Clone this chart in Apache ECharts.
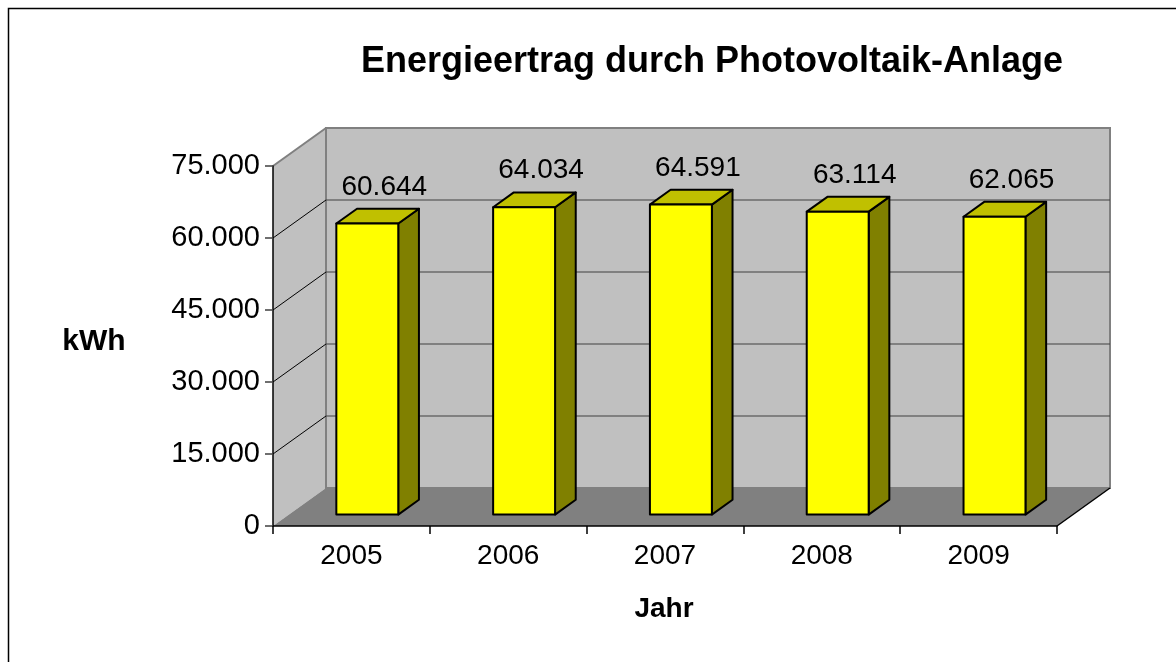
<!DOCTYPE html>
<html>
<head>
<meta charset="utf-8">
<title>Energieertrag durch Photovoltaik-Anlage</title>
<script src="https://cdn.jsdelivr.net/npm/echarts@6/dist/echarts.min.js"></script>
<style>
  html, body { margin: 0; padding: 0; background: #fff; }
  #chart { width: 1176px; height: 662px; }
</style>
</head>
<body>
<div id="chart"></div>
<script>
// Daten
const years = ['2005', '2006', '2007', '2008', '2009']
const energy = [60644, 64034, 64591, 63114, 62065]
const yTicks = [0, 15000, 30000, 45000, 60000, 75000]

// 3D-Tiefe (Pixel) und Lage der Säulen in der Tiefe
const DX = 53
const DY = -38
const F0 = 0.3   // Vorderseite der Säule
const FD = 0.39  // Tiefe der Säule
const BAR_W = 0.395

const fmt = (v) => String(Math.round(v)).replace(/\B(?=(\d{3})+(?!\d))/g, '.')

const font = '"Liberation Sans", Arial, sans-serif'

// Wände und Boden
const renderWalls = (params, api) => {
  const cs = params.coordSys
  const x0 = cs.x, x1 = cs.x + cs.width
  const yT = cs.y, yB = cs.y + cs.height
  const children = []

  children.push({
    type: 'polygon',
    shape: { points: [[x0, yT], [x0 + DX, yT + DY], [x0 + DX, yB + DY], [x0, yB]] },
    style: { fill: '#c0c0c0' }
  })
  children.push({
    type: 'rect',
    shape: { x: x0 + DX, y: yT + DY, width: cs.width, height: cs.height },
    style: { fill: '#c0c0c0', stroke: '#808080', lineWidth: 2 }
  })
  children.push({
    type: 'polygon',
    shape: { points: [[x0, yB], [x1, yB], [x1 + DX, yB + DY], [x0 + DX, yB + DY]] },
    style: { fill: '#808080' }
  })

  yTicks.forEach((t, i) => {
    if (i === 0 || i === yTicks.length - 1) return
    const y = api.coord([0, t])[1]
    children.push({
      type: 'line',
      shape: { x1: x0 + DX, y1: y + DY, x2: x1 + DX, y2: y + DY },
      style: { stroke: '#404040', lineWidth: 1 }
    })
    children.push({
      type: 'line',
      shape: { x1: x0, y1: y, x2: x0 + DX, y2: y + DY },
      style: { stroke: '#000', lineWidth: 1 }
    })
  })

  // obere Kante der Seitenwand
  children.push({
    type: 'line',
    shape: { x1: x0, y1: yT, x2: x0 + DX, y2: yT + DY },
    style: { stroke: '#808080', lineWidth: 2 }
  })
  // rechte Bodenkante
  children.push({
    type: 'line',
    shape: { x1: x1, y1: yB, x2: x1 + DX, y2: yB + DY },
    style: { stroke: '#000', lineWidth: 1.5 }
  })

  return { type: 'group', children }
}

// 3D-Säulen
const renderBar = (params, api) => {
  const idx = api.value(0)
  const val = api.value(1)
  const top = api.coord([idx, val])
  const base = api.coord([idx, 0])
  const bw = api.size([1, 0])[0] * BAR_W
  const ox = DX * F0, oy = DY * F0
  const dx = DX * FD, dy = DY * FD

  const xl = top[0] + ox - bw / 2
  const xr = xl + bw
  const yt = top[1] + oy
  const yb = base[1] + oy
  const line = { stroke: '#000', lineWidth: 2, lineJoin: 'round' }

  return {
    type: 'group',
    children: [
      {
        type: 'polygon',
        shape: { points: [[xr, yt], [xr, yb], [xr + dx, yb + dy], [xr + dx, yt + dy]] },
        style: Object.assign({ fill: '#808000' }, line)
      },
      {
        type: 'polygon',
        shape: { points: [[xl, yt], [xr, yt], [xr + dx, yt + dy], [xl + dx, yt + dy]] },
        style: Object.assign({ fill: '#c0c000' }, line)
      },
      {
        type: 'rect',
        shape: { x: xl, y: yt, width: bw, height: yb - yt },
        style: Object.assign({ fill: '#ffff00' }, line)
      },
      {
        type: 'text',
        x: top[0] + ox + 17,
        y: top[1] - 48,
        style: {
          text: fmt(val),
          align: 'center',
          verticalAlign: 'middle',
          fontSize: 28,
          fontFamily: font,
          fill: '#000'
        }
      }
    ]
  }
}

const chart = echarts.init(document.getElementById('chart'))

const option = {
  backgroundColor: '#fff',
  animation: false,
  textStyle: { fontFamily: font },
  graphic: [
    {
      type: 'rect',
      shape: { x: 8.5, y: 8.5, width: 1200, height: 700 },
      style: { fill: 'none', stroke: '#000', lineWidth: 1.5 },
      z: 100
    },
    {
      type: 'text',
      x: 712,
      y: 62,
      style: {
        text: 'Energieertrag durch Photovoltaik-Anlage',
        align: 'center',
        verticalAlign: 'middle',
        fontSize: 36,
        fontWeight: 'bold',
        fontFamily: font,
        fill: '#000'
      }
    },
    {
      type: 'text',
      x: 94,
      y: 342,
      style: {
        text: 'kWh',
        align: 'center',
        verticalAlign: 'middle',
        fontSize: 30,
        fontWeight: 'bold',
        fontFamily: font,
        fill: '#000'
      }
    },
    {
      type: 'text',
      x: 664,
      y: 609,
      style: {
        text: 'Jahr',
        align: 'center',
        verticalAlign: 'middle',
        fontSize: 28,
        fontWeight: 'bold',
        fontFamily: font,
        fill: '#000'
      }
    }
  ],
  grid: {
    left: 273,
    top: 166,
    width: 784,
    height: 360,
    containLabel: false
  },
  xAxis: {
    type: 'category',
    data: years,
    z: 5,
    axisLine: { lineStyle: { color: '#000', width: 1.5 } },
    axisTick: { show: true, length: 8, lineStyle: { color: '#000', width: 1.5 } },
    axisLabel: { color: '#000', fontSize: 28, margin: 16, fontFamily: font },
    splitLine: { show: false }
  },
  yAxis: {
    type: 'value',
    min: 0,
    max: 75000,
    interval: 15000,
    z: 5,
    axisLine: { show: true, lineStyle: { color: '#000', width: 1.5 } },
    axisTick: { show: true, length: 8, lineStyle: { color: '#404040', width: 1.5 } },
    axisLabel: { color: '#000', fontSize: 29, margin: 13, fontFamily: font, formatter: (v) => fmt(v) },
    splitLine: { show: false }
  },
  series: [
    {
      type: 'custom',
      name: 'Wände',
      renderItem: renderWalls,
      data: [[0, 0]],
      z: 1,
      silent: true
    },
    {
      type: 'custom',
      name: 'Energieertrag',
      renderItem: renderBar,
      data: energy.map((v, i) => [i, v]),
      z: 2
    }
  ]
}

chart.setOption(option)

window.addEventListener('resize', () => chart.resize())
</script>
</body>
</html>
